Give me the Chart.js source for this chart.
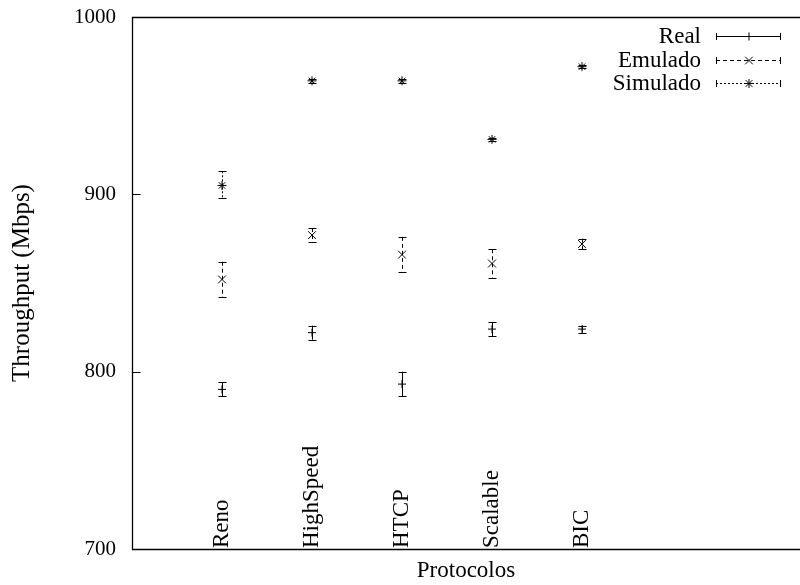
<!DOCTYPE html>
<html>
<head>
<meta charset="utf-8">
<title>Throughput por protocolo</title>
<script src="https://cdn.jsdelivr.net/npm/chart.js@4.4.1/dist/chart.umd.min.js"></script>
<style>
  html, body { margin: 0; padding: 0; background: #fff; }
  canvas { display: block; }
</style>
</head>
<body>
<canvas id="throughputChart" width="800" height="585"></canvas>
<script>
// -------------------------
// Data (Mbps): mean and error range per protocol
// -------------------------
const protocols = ["Reno", "HighSpeed", "HTCP", "Scalable", "BIC"];

const realMean = [790, 822, 793, 824, 824];
const realLow  = [786, 818, 786, 820, 822];
const realHigh = [794, 826, 800, 828, 826];

const emuMean = [852, 877, 866, 861, 872];
const emuLow  = [842, 873, 856, 853, 869];
const emuHigh = [862, 881, 876, 869, 875];

const simMean = [905, 964, 964, 931, 972];
const simLow  = [898, 963, 963, 930, 971];
const simHigh = [913, 965, 965, 932, 973];

const yTicks = [700, 800, 900, 1000];

const FONT = "'Liberation Serif', 'Times New Roman', serif";
const FONT_SIZE = 23;

function toPoints(mean, low, high) {
  return mean.map((v, i) => ({ x: i + 1, y: v, yMin: low[i], yMax: high[i] }));
}

// -------------------------
// Small marker helper (key samples)
// -------------------------
function drawMarker(ctx, style, x, y, r) {
  ctx.beginPath();
  if (style === "cross" || style === "star") {
    ctx.moveTo(x - r, y); ctx.lineTo(x + r, y);
    ctx.moveTo(x, y - r); ctx.lineTo(x, y + r);
  }
  if (style === "crossRot" || style === "star") {
    const d = r * 0.75;
    ctx.moveTo(x - d, y - d); ctx.lineTo(x + d, y + d);
    ctx.moveTo(x - d, y + d); ctx.lineTo(x + d, y - d);
  }
  ctx.stroke();
}

// -------------------------
// Error bars with caps
// -------------------------
const errorBars = {
  id: "errorBars",
  afterDatasetsDraw(chart) {
    const { ctx, scales: { x, y } } = chart;
    chart.data.datasets.forEach((ds, di) => {
      if (!chart.isDatasetVisible(di)) return;
      ctx.save();
      ctx.strokeStyle = "#000";
      ctx.lineWidth = 1;
      ds.data.forEach(p => {
        const px = Math.round(x.getPixelForValue(p.x)) + 0.5;
        const top = y.getPixelForValue(p.yMax);
        const bot = y.getPixelForValue(p.yMin);
        ctx.setLineDash(ds.errorDash);
        ctx.beginPath();
        ctx.moveTo(px, top);
        ctx.lineTo(px, bot);
        ctx.stroke();
        ctx.setLineDash([]);
        ctx.beginPath();
        ctx.moveTo(px - 4, Math.round(top) + 0.5);
        ctx.lineTo(px + 4, Math.round(top) + 0.5);
        ctx.moveTo(px - 4, Math.round(bot) + 0.5);
        ctx.lineTo(px + 4, Math.round(bot) + 0.5);
        ctx.stroke();
      });
      ctx.restore();
    });
  },
};

// -------------------------
// Frame, inward y ticks, rotated protocol names, key
// -------------------------
const frameAndLabels = {
  id: "frameAndLabels",
  afterDraw(chart) {
    const { ctx, chartArea: a, scales: { x, y } } = chart;
    ctx.save();
    ctx.strokeStyle = "#000";
    ctx.lineWidth = 1.3;

    // border: left, top, bottom (no right edge)
    const L = Math.round(a.left) + 0.5;
    const T = Math.round(a.top) + 0.5;
    const B = Math.round(a.bottom) + 0.5;
    ctx.beginPath();
    ctx.moveTo(a.right, T);
    ctx.lineTo(L, T);
    ctx.lineTo(L, B);
    ctx.lineTo(a.right, B);
    ctx.stroke();

    // tick marks pointing into the plot
    ctx.lineWidth = 1;
    yTicks.forEach(v => {
      const py = Math.round(y.getPixelForValue(v)) + 0.5;
      ctx.beginPath();
      ctx.moveTo(L, py);
      ctx.lineTo(L + 8, py);
      ctx.stroke();
    });

    // protocol names, vertical, sitting on the x axis
    ctx.fillStyle = "#000";
    ctx.font = `${FONT_SIZE}px ${FONT}`;
    ctx.textAlign = "left";
    ctx.textBaseline = "middle";
    protocols.forEach((name, i) => {
      const px = x.getPixelForValue(i + 1);
      ctx.save();
      ctx.translate(px, a.bottom - 1);
      ctx.rotate(-Math.PI / 2);
      ctx.fillText(name, 0, 0);
      ctx.restore();
    });

    // key, top right
    const textRight = 701;
    const x0 = 716, x1 = 781;
    const rows = [36, 59.5, 83];
    chart.data.datasets.forEach((ds, i) => {
      const ky = rows[i];
      ctx.textAlign = "right";
      ctx.fillText(ds.label, textRight, ky + 1);
      const ly = Math.round(ky) + 0.5;
      ctx.setLineDash(ds.errorDash);
      ctx.beginPath();
      ctx.moveTo(x0, ly);
      ctx.lineTo(x1, ly);
      ctx.stroke();
      ctx.setLineDash([]);
      ctx.beginPath();
      ctx.moveTo(x0 + 0.5, ly - 3.5);
      ctx.lineTo(x0 + 0.5, ly + 3.5);
      ctx.moveTo(x1 - 0.5, ly - 3.5);
      ctx.lineTo(x1 - 0.5, ly + 3.5);
      ctx.stroke();
      drawMarker(ctx, ds.pointStyle, (x0 + x1) / 2 + 0.5, ly, ds.keyRadius);
    });
    ctx.restore();
  },
};

// -------------------------
// Chart
// -------------------------
new Chart(document.getElementById("throughputChart"), {
  type: "scatter",
  data: {
    datasets: [
      {
        label: "Real",
        data: toPoints(realMean, realLow, realHigh),
        pointStyle: "cross",
        pointRadius: 4,
        keyRadius: 4,
        errorDash: [],
      },
      {
        label: "Emulado",
        data: toPoints(emuMean, emuLow, emuHigh),
        pointStyle: "crossRot",
        pointRadius: 5.5,
        keyRadius: 5,
        errorDash: [4, 3],
      },
      {
        label: "Simulado",
        data: toPoints(simMean, simLow, simHigh),
        pointStyle: "star",
        pointRadius: 4.5,
        keyRadius: 4.5,
        errorDash: [2, 2],
      },
    ].map(ds => ({
      ...ds,
      borderColor: "#000",
      backgroundColor: "#000",
      pointBorderWidth: 1,
      pointHoverRadius: ds.pointRadius,
      showLine: false,
    })),
  },
  options: {
    responsive: false,
    animation: false,
    devicePixelRatio: 1,
    layout: { autoPadding: false, padding: { top: 17, right: 0, bottom: 0, left: 0 } },
    plugins: {
      legend: { display: false },
      tooltip: { enabled: false },
    },
    scales: {
      x: {
        type: "linear",
        min: 0,
        max: 668 / 90,
        grid: { display: false, drawTicks: false },
        border: { display: false },
        ticks: { display: false },
        title: {
          display: true,
          text: "Protocolos",
          color: "#000",
          font: { family: FONT, size: FONT_SIZE },
          padding: { top: 0, bottom: 0 },
        },
        afterFit(scale) {
          scale.height = 36;
          scale.paddingLeft = 0;
          scale.paddingRight = 0;
        },
      },
      y: {
        min: 700,
        max: 1000,
        grid: { display: false, drawTicks: false },
        border: { display: false },
        ticks: {
          stepSize: 100,
          padding: 16,
          color: "#000",
          font: { family: FONT, size: 21 },
          callback: v => String(v),
        },
        title: {
          display: true,
          text: "Throughput (Mbps)",
          color: "#000",
          font: { family: FONT, size: 25 },
          padding: { top: 7, bottom: 0 },
        },
        afterFit(scale) {
          scale.width = 132;
          scale.paddingTop = 0;
          scale.paddingBottom = 0;
        },
      },
    },
  },
  plugins: [errorBars, frameAndLabels],
});
</script>
</body>
</html>
